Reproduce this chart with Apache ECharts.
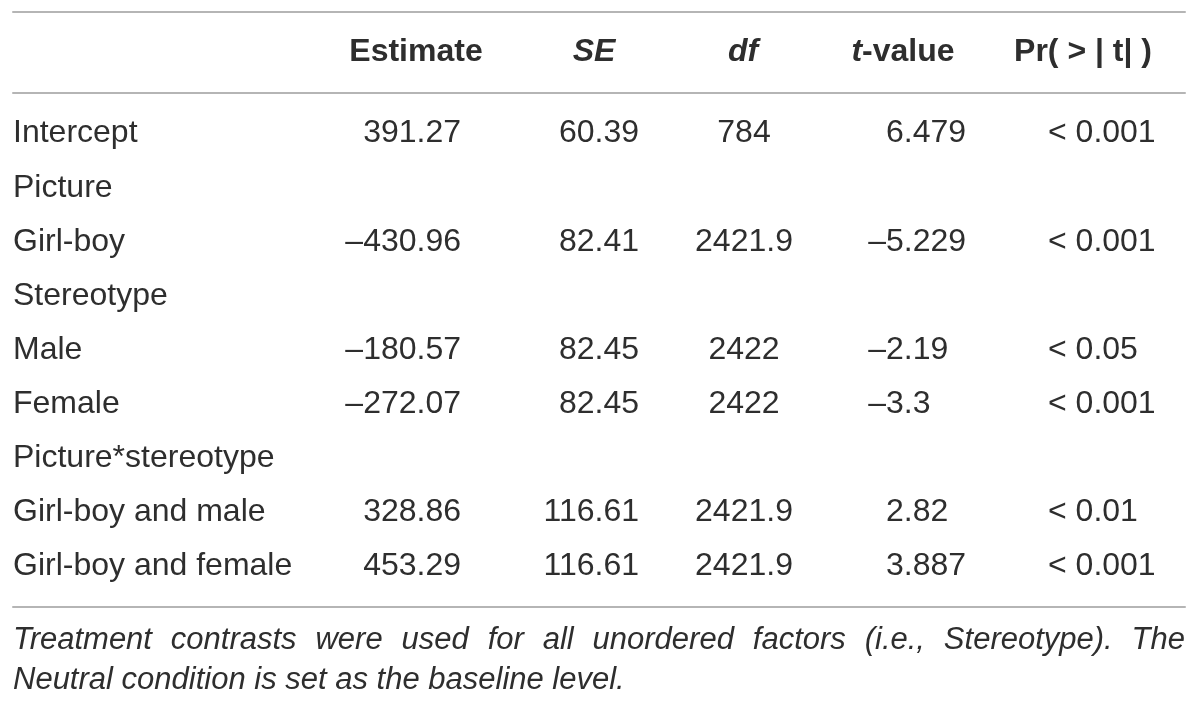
<!DOCTYPE html>
<html>
<head>
<meta charset="utf-8">
<title>Model estimates</title>
<script src="https://cdn.jsdelivr.net/npm/echarts@6/dist/echarts.min.js"></script>
<style>
html, body { margin: 0; padding: 0; background: #fff; }
#main { width: 1200px; height: 705px; }
</style>
</head>
<body>
<div id="main"></div>
<script>
// 表格数据
var terms = ['Intercept', 'Picture', 'Girl-boy', 'Stereotype', 'Male', 'Female',
    'Picture*stereotype', 'Girl-boy and male', 'Girl-boy and female'];
var estimate = [391.27, null, -430.96, null, -180.57, -272.07, null, 328.86, 453.29];
var se = [60.39, null, 82.41, null, 82.45, 82.45, null, 116.61, 116.61];
var df = [784, null, 2421.9, null, 2422, 2422, null, 2421.9, 2421.9];
var tValue = [6.479, null, -5.229, null, -2.19, -3.3, null, 2.82, 3.887];
var pLimit = [0.001, null, 0.001, null, 0.05, 0.001, null, 0.01, 0.001];
var headers = ['Estimate', 'SE', 'df', 't-value', 'Pr( > | t| )'];
var footnote = [
    'Treatment contrasts were used for all unordered factors (i.e., Stereotype). The',
    'Neutral condition is set as the baseline level.'
];

// 版式
var FAMILY = '"Liberation Sans", Arial, sans-serif';
var BODY_FONT = '32px ' + FAMILY;
var NOTE_FONT = 'italic 31px ' + FAMILY;
var TEXT = '#2e2e2e';
var RULE = '#b5b5b5';
var LEFT = 13, WIDTH = 1172;
// 列锚点 (相对表格左边) 和对齐方式
var cols = {
    term: { x: 0, align: 'left' },
    estimate: { x: 448, align: 'right' },
    se: { x: 626, align: 'right' },
    df: { x: 731, align: 'center' },
    t: { x: 873, align: 'left' },
    p: { x: 1035, align: 'left' }
};
var headerX = [403, 581, 730, 890, 1070];
var headerStyle = ['b', 'bi', 'bi', 'lead', 'b'];

var ctx = document.createElement('canvas').getContext('2d');
function measure(text, font) {
    ctx.font = font;
    return ctx.measureText(text).width;
}
var MINUS = '\u2013';
var minusW = measure(MINUS, BODY_FONT);

function num(v) {
    return v < 0 ? MINUS + Math.abs(v) : String(v);
}

function textEl(x, y, text, align, font) {
    return {
        type: 'text', x: x, y: y,
        style: {
            text: text, font: font, fill: TEXT,
            align: align, textAlign: align,
            verticalAlign: 'middle', textVerticalAlign: 'middle'
        }
    };
}

// 每一列一个 custom 系列
function cellSeries(values, col, fmt, hang) {
    var data = [];
    values.forEach(function (v, i) {
        if (v !== null) data.push([col.x, i, i]);
    });
    return {
        type: 'custom',
        xAxisIndex: 2,
        yAxisIndex: 1,
        silent: true,
        encode: { x: 0, y: 1 },
        data: data,
        renderItem: function (params, api) {
            var row = api.value(2);
            var v = values[row];
            var p = api.coord([api.value(0), api.value(1)]);
            var x = p[0];
            if (hang && v < 0) x -= minusW;
            return textEl(x, p[1], fmt(v), col.align, BODY_FONT);
        }
    };
}

var richStyle = {
    b: { fontFamily: FAMILY, fontSize: 32, fontWeight: 'bold', fill: TEXT, color: TEXT },
    bi: { fontFamily: FAMILY, fontSize: 32, fontWeight: 'bold', fontStyle: 'italic', fill: TEXT, color: TEXT }
};
function headerText(i) {
    var h = headers[i];
    if (headerStyle[i] === 'lead') return '{bi|' + h.charAt(0) + '}{b|' + h.slice(1) + '}';
    return '{' + headerStyle[i] + '|' + h + '}';
}

var headerSeries = {
    type: 'custom',
    xAxisIndex: 0,
    yAxisIndex: 0,
    silent: true,
    encode: { x: 0, y: 1 },
    data: headerX.map(function (x, i) { return [x, 0, i]; }),
    renderItem: function (params, api) {
        var p = api.coord([api.value(0), api.value(1)]);
        return {
            type: 'text', x: p[0], y: p[1],
            style: {
                text: headerText(api.value(2)),
                rich: richStyle,
                align: 'center', textAlign: 'center',
                verticalAlign: 'middle', textVerticalAlign: 'middle'
            }
        };
    }
};

// 注释: 第一行两端对齐
function noteGraphics() {
    var els = [];
    var words = footnote[0].split(' ');
    var widths = words.map(function (w) { return measure(w, NOTE_FONT); });
    var total = widths.reduce(function (a, b) { return a + b; }, 0);
    var gap = (WIDTH - total) / (words.length - 1);
    var x = LEFT;
    words.forEach(function (w, i) {
        els.push(textEl(x, 640, w, 'left', NOTE_FONT));
        x += widths[i] + gap;
    });
    els.push(textEl(LEFT, 680, footnote[1], 'left', NOTE_FONT));
    return els;
}

var hiddenAxis = { show: false };
var ruleLine = { show: true, onZero: false, lineStyle: { color: RULE, width: 2 } };

var myChart = echarts.init(document.getElementById('main'));
var option = {
    animation: false,
    backgroundColor: '#fff',
    grid: [
        { left: LEFT, width: WIDTH, top: 12, height: 81 },
        { left: LEFT, width: WIDTH, top: 93, height: 514 }
    ],
    xAxis: [
        { gridIndex: 0, type: 'value', position: 'top', min: 0, max: WIDTH,
          axisLine: ruleLine, axisTick: hiddenAxis, axisLabel: hiddenAxis, splitLine: hiddenAxis },
        { gridIndex: 0, type: 'value', position: 'bottom', min: 0, max: WIDTH,
          axisLine: ruleLine, axisTick: hiddenAxis, axisLabel: hiddenAxis, splitLine: hiddenAxis },
        { gridIndex: 1, type: 'value', position: 'bottom', min: 0, max: WIDTH,
          axisLine: ruleLine, axisTick: hiddenAxis, axisLabel: hiddenAxis, splitLine: hiddenAxis }
    ],
    yAxis: [
        { gridIndex: 0, type: 'value', min: -1, max: 1, show: false },
        { gridIndex: 1, type: 'value', inverse: true, min: -0.75, max: 8.75, show: false }
    ],
    graphic: noteGraphics(),
    series: [
        headerSeries,
        cellSeries(terms, cols.term, function (v) { return v; }, false),
        cellSeries(estimate, cols.estimate, num, false),
        cellSeries(se, cols.se, num, false),
        cellSeries(df, cols.df, num, false),
        cellSeries(tValue, cols.t, num, true),
        cellSeries(pLimit, cols.p, function (v) { return '< ' + v; }, false)
    ]
};
myChart.setOption(option);
</script>
</body>
</html>
